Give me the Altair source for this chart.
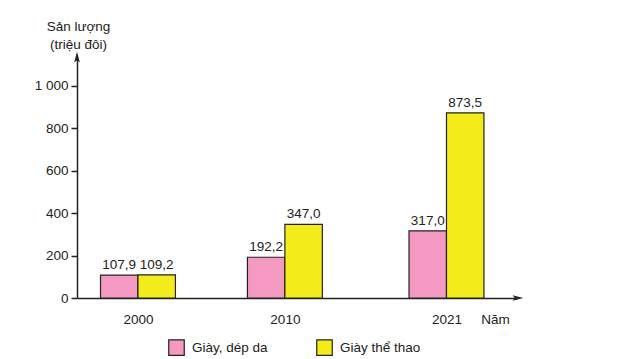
import altair as alt
import pandas as pd

years = [2000, 2010, 2021]
series_names = ["Giày, dép da", "Giày thể thao"]
leather = [107.9, 192.2, 317.0]
sports = [109.2, 347.0, 873.5]
colors = ["#F49AC2", "#F4EC1A"]
y_ticks = [0, 200, 400, 600, 800, 1000]

rows = []
for i, yr in enumerate(years):
    rows.append({"year": yr, "series": series_names[0], "value": leather[i], "side": -1})
    rows.append({"year": yr, "series": series_names[1], "value": sports[i], "side": 1})
df = pd.DataFrame(rows)

FONT = "Liberation Sans"
X_DOMAIN = [1995.85, 2025.8]
Y_DOMAIN = [0, 1132]
HALF = 2.55

xscale = alt.Scale(domain=X_DOMAIN, nice=False, zero=False, padding=0)
yscale = alt.Scale(domain=Y_DOMAIN, nice=False, padding=0)

base = alt.Chart(df).transform_calculate(
    x0="datum.side < 0 ? datum.year - %f : datum.year" % HALF,
    x1="datum.side < 0 ? datum.year : datum.year + %f" % HALF,
    xm="datum.side < 0 ? datum.year - %f : datum.year + %f" % (HALF / 2, HALF / 2),
    lbl="replace(format(datum.value, '.1f'), '.', ',')",
)

bars = base.mark_bar(stroke="#222", strokeWidth=1.2, orient="vertical").encode(
    x=alt.X("x0:Q", scale=xscale,
            axis=alt.Axis(values=years, format="d", ticks=False, domainColor="#222",
                          domainWidth=1.5, labelFont=FONT, labelFontSize=13.5,
                          labelColor="#222", labelPadding=14, grid=False,
                          title="Năm", titleFont=FONT, titleFontSize=13.5,
                          titleFontWeight="normal", titleColor="#222",
                          titleX=418, titleY=21, titleBaseline="middle")),
    x2="x1:Q",
    y=alt.Y("value:Q", scale=yscale,
            axis=alt.Axis(values=y_ticks, grid=False, domainColor="#222", domainWidth=1.5,
                          tickColor="#222", tickSize=6, tickWidth=1.5,
                          labelFont=FONT, labelFontSize=13.5, labelColor="#222",
                          labelPadding=3,
                          labelExpr="replace(format(datum.value, ','), ',', ' ')",
                          title=["Sản lượng", "(triệu đôi)"], titleAngle=0,
                          titleFont=FONT, titleFontSize=13.5, titleFontWeight="normal",
                          titleColor="#222", titleX=1, titleY=-39, titleAlign="center",
                          titleBaseline="top", titleLineHeight=18)),
    y2=alt.Y2(datum=0),
    color=alt.Color("series:N",
                    scale=alt.Scale(domain=series_names, range=colors),
                    legend=alt.Legend(title=None, orient="none", legendX=91, legendY=281,
                                      direction="horizontal", columns=2,
                                      symbolType="square", symbolSize=240,
                                      symbolStrokeColor="#222", symbolStrokeWidth=1.2,
                                      labelFont=FONT, labelFontSize=13.5, labelColor="#222",
                                      labelOffset=7, columnPadding=46)),
)

labels = base.mark_text(font=FONT, fontSize=13.5, color="#222", dy=-10).encode(
    x=alt.X("xm:Q", scale=xscale),
    y=alt.Y("value:Q", scale=yscale),
    text="lbl:N",
)

arrow_path = "M0,-1 L0.45,0.7 L0,0.35 L-0.45,0.7 Z"
arrows = alt.Chart(pd.DataFrame({"px": [X_DOMAIN[0], X_DOMAIN[1]],
                                 "py": [Y_DOMAIN[1], 0],
                                 "ang": [0, 90]})).mark_point(
    shape=arrow_path, filled=True, color="#222", size=160, opacity=1
).encode(
    x=alt.X("px:Q", scale=xscale),
    y=alt.Y("py:Q", scale=yscale),
    angle=alt.Angle("ang:Q", scale=None),
)

chart = alt.layer(bars, labels, arrows).properties(
    width=440, height=240, autosize="none",
    padding={"left": 69, "top": 50, "right": 96, "bottom": 60},
    background="white",
).configure_view(stroke=None)

chart.save("out.html", embed_options={"renderer": "svg", "actions": False})
